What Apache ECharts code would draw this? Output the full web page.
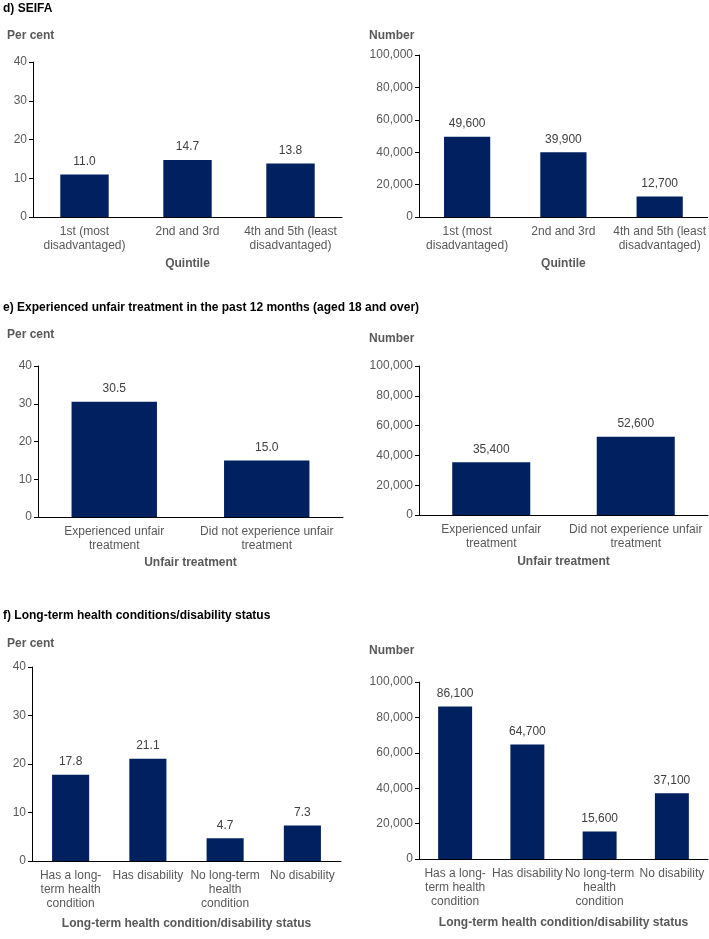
<!DOCTYPE html>
<html>
<head>
<meta charset="utf-8">
<script src="https://cdn.jsdelivr.net/npm/echarts@6/dist/echarts.min.js"></script>
<style>
html,body{margin:0;padding:0;background:#fff;}
#chart{width:709px;height:939px;}
</style>
</head>
<body>
<div id="chart"></div>
<script>
// ---- Data ----
const seifaCategories = ["1st (most\ndisadvantaged)", "2nd and 3rd", "4th and 5th (least\ndisadvantaged)"];
const seifaPercent = [11.0, 14.7, 13.8];
const seifaNumber = [49600, 39900, 12700];

const unfairCategories = ["Experienced unfair\ntreatment", "Did not experience unfair\ntreatment"];
const unfairPercent = [30.5, 15.0];
const unfairNumber = [35400, 52600];

const healthCategories = ["Has a long-\nterm health\ncondition", "Has disability", "No long-term\nhealth\ncondition", "No disability"];
const healthPercent = [17.8, 21.1, 4.7, 7.3];
const healthNumber = [86100, 64700, 15600, 37100];

const percentTicks = { min: 0, max: 40, interval: 10 };
const numberTicks = { min: 0, max: 100000, interval: 20000 };

const panelTitles = ["d) SEIFA", "e) Experienced unfair treatment in the past 12 months (aged 18 and over)", "f) Long-term health conditions/disability status"];
const xNames = ["Quintile", "Unfair treatment", "Long-term health condition/disability status"];

// ---- Styling ----
const FONT = 'Arial, "Liberation Sans", sans-serif';
const GRAY = '#595959';
const BAR = '#002060';

const grids = [
  { left: 33, top: 62, width: 309, height: 155 },
  { left: 419, top: 55, width: 289, height: 162 },
  { left: 38, top: 366, width: 305, height: 151 },
  { left: 419, top: 366, width: 289, height: 149 },
  { left: 32, top: 667, width: 309, height: 194 },
  { left: 419, top: 682, width: 289, height: 177 }
];
const panels = [
  { cats: seifaCategories, vals: seifaPercent, pct: true, xName: xNames[0], gap: 41, bw: '47%' },
  { cats: seifaCategories, vals: seifaNumber, pct: false, xName: xNames[0], gap: 41, bw: '48%' },
  { cats: unfairCategories, vals: unfairPercent, pct: true, xName: xNames[1], gap: 40, bw: '56%' },
  { cats: unfairCategories, vals: unfairNumber, pct: false, xName: xNames[1], gap: 41, bw: '54%' },
  { cats: healthCategories, vals: healthPercent, pct: true, xName: xNames[2], gap: 57, bw: '48%' },
  { cats: healthCategories, vals: healthNumber, pct: false, xName: xNames[2], gap: 58, bw: '47%' }
];

const fmtNum = v => Number(v).toLocaleString('en-US');

const titles = [
  { text: panelTitles[0], left: 3, top: 3 },
  { text: panelTitles[1], left: 3, top: 302 },
  { text: panelTitles[2], left: 3, top: 610 },
  { text: 'Per cent', left: 7, top: 30, color: GRAY },
  { text: 'Number', left: 369, top: 30, color: GRAY },
  { text: 'Per cent', left: 7, top: 329, color: GRAY },
  { text: 'Number', left: 369, top: 333, color: GRAY },
  { text: 'Per cent', left: 7, top: 638, color: GRAY },
  { text: 'Number', left: 369, top: 645, color: GRAY }
].map(t => ({
  text: t.text, left: t.left, top: t.top, padding: 0,
  textStyle: { fontFamily: FONT, fontSize: 12, fontWeight: 'bold', color: t.color || '#000' }
}));

const option = {
  animation: false,
  backgroundColor: '#fff',
  title: titles,
  grid: grids.map(g => Object.assign({ containLabel: false }, g)),
  xAxis: panels.map((p, i) => ({
    type: 'category', gridIndex: i, data: p.cats,
    name: p.xName, nameLocation: 'middle', nameGap: p.gap,
    nameTextStyle: { fontFamily: FONT, fontSize: 12, fontWeight: 'bold', color: GRAY },
    axisLine: { show: true, lineStyle: { color: '#000', width: 1 } },
    axisTick: { show: false },
    axisLabel: { interval: 0, fontFamily: FONT, fontSize: 12, color: GRAY, lineHeight: 14, margin: 8 },
    splitLine: { show: false }
  })),
  yAxis: panels.map((p, i) => {
    const t = p.pct ? percentTicks : numberTicks;
    return {
      type: 'value', gridIndex: i, min: t.min, max: t.max, interval: t.interval,
      axisLine: { show: true, lineStyle: { color: '#000', width: 1 } },
      axisTick: { show: true, length: 4, lineStyle: { color: '#000' } },
      axisLabel: { fontFamily: FONT, fontSize: 12, color: GRAY, margin: 6,
        formatter: v => p.pct ? String(v) : fmtNum(v) },
      splitLine: { show: false }
    };
  }),
  series: panels.map((p, i) => ({
    type: 'bar', xAxisIndex: i, yAxisIndex: i, data: p.vals,
    barWidth: p.bw,
    itemStyle: { color: BAR },
    label: { show: true, position: 'top', distance: 7, fontFamily: FONT, fontSize: 12, color: '#404040',
      formatter: d => p.pct ? Number(d.value).toFixed(1) : fmtNum(d.value) }
  }))
};

const chart = echarts.init(document.getElementById('chart'), null, { renderer: 'canvas' });
chart.setOption(option);
</script>
</body>
</html>
